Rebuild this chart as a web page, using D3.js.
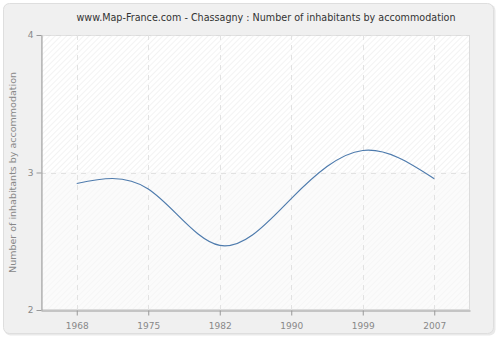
<!DOCTYPE html>
<html><head><meta charset="utf-8">
<script src="https://cdn.jsdelivr.net/npm/d3@7"></script>
<style>body{margin:0;background:#fff}svg{display:block}</style>
</head><body>
<svg id="c" width="500" height="340"></svg>
<script>
const years = ["1968","1975","1982","1990","1999","2007"];
const values = [2.92, 2.88, 2.47, 2.81, 3.16, 2.955];
const yTicks = [2, 3, 4];
const title = "www.Map-France.com - Chassagny : Number of inhabitants by accommodation";
const yLabel = "Number of inhabitants by accommodation";

const svg = d3.select("#c");
const W = 500, H = 340;
const m = {l: 41, r: 30, t: 35, b: 30};
const defs = svg.append("defs");
function hatch(id, bg, fg) {
  const p = defs.append("pattern").attr("id", id).attr("patternUnits", "userSpaceOnUse")
    .attr("width", 4).attr("height", 4).attr("patternTransform", "rotate(45)");
  p.append("rect").attr("width", 4).attr("height", 4).attr("fill", bg);
  p.append("line").attr("x1", 0).attr("y1", 0).attr("x2", 0).attr("y2", 4)
    .attr("stroke", fg).attr("stroke-width", 1.2);
}
hatch("h1", "#ffffff", "#ececec");
hatch("h2", "#fbfbfb", "#f3f3f3");

svg.append("rect").attr("x", 4.5).attr("y", 4.5).attr("width", 491).attr("height", 331)
  .attr("rx", 6).attr("fill", "#e9e9e9");
svg.append("rect").attr("x", 3.5).attr("y", 3.5).attr("width", 490).attr("height", 330)
  .attr("rx", 6).attr("fill", "#f0f0f0").attr("stroke", "#dedede");

const x = d3.scalePoint().domain(years).range([m.l, W - m.r]).padding(0.5);
const y = d3.scaleLinear().domain([2, 4]).range([H - m.b, m.t]);

svg.append("rect").attr("x", m.l).attr("y", y(4)).attr("width", W - m.r - m.l)
  .attr("height", y(3) - y(4)).attr("fill", "url(#h1)");
svg.append("rect").attr("x", m.l).attr("y", y(3)).attr("width", W - m.r - m.l)
  .attr("height", y(2) - y(3)).attr("fill", "url(#h2)");
svg.append("rect").attr("x", m.l + 0.5).attr("y", y(4) + 0.5).attr("width", W - m.r - m.l - 1)
  .attr("height", y(2) - y(4) - 1).attr("fill", "none").attr("stroke", "#dcdcdc");

const grid = svg.append("g").attr("stroke", "#e2e2e2").attr("stroke-dasharray", "5,5");
years.forEach(d => grid.append("line").attr("x1", Math.round(x(d)) + 0.5).attr("x2", Math.round(x(d)) + 0.5)
  .attr("y1", y(4)).attr("y2", y(2)));
yTicks.slice(1).forEach(v => grid.append("line").attr("x1", m.l).attr("x2", W - m.r)
  .attr("y1", Math.round(y(v)) + 0.5).attr("y2", Math.round(y(v)) + 0.5));

const line = d3.line().x((d, i) => x(years[i])).y(d => y(d)).curve(d3.curveNatural);
svg.append("path").datum(values).attr("d", line).attr("fill", "none")
  .attr("stroke", "#4e7bad").attr("stroke-width", 1.2);

const xAxis = svg.append("g").attr("transform", `translate(0,${y(2) + 0.5})`)
  .call(d3.axisBottom(x).tickSize(5).tickSizeOuter(0));
const yAxis = svg.append("g").attr("transform", `translate(${m.l + 0.5},0)`)
  .call(d3.axisLeft(y).tickValues(yTicks).tickFormat(d3.format("d")).tickSize(5).tickSizeOuter(0));
[xAxis, yAxis].forEach(a => {
  a.select(".domain").attr("stroke", "#999");
  a.selectAll(".tick line").attr("stroke", "#999");
  a.selectAll("text").attr("fill", "#888").style("font-family", "DejaVu Sans").style("font-size", "9px");
});
xAxis.selectAll(".tick text").attr("dy", "1.2em");
xAxis.selectAll(".tick line").attr("y1", -0).attr("y2", 5);

svg.append("text").attr("x", 266).attr("y", 21).attr("text-anchor", "middle")
  .attr("fill", "#333").style("font-family", "DejaVu Sans").style("font-size", "9.6px").text(title);
svg.append("text").attr("transform", `translate(16,${y(3)}) rotate(-90)`).attr("text-anchor", "middle")
  .attr("fill", "#888").style("font-family", "DejaVu Sans").style("font-size", "9.5px").text(yLabel);
</script>
</body></html>
